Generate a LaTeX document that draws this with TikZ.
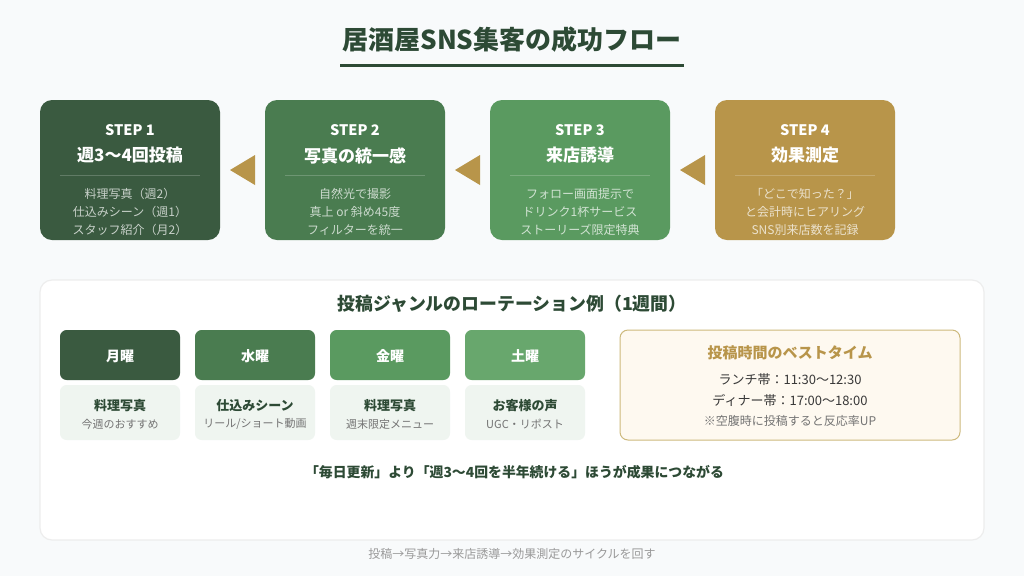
\documentclass[tikz,border=0pt]{standalone}
\usepackage{fontspec}
\setmainfont{Noto Sans CJK JP}
\usetikzlibrary{calc}

\definecolor{pagebg}{HTML}{F8FAFB}
\definecolor{forest}{HTML}{2D4A35}
\definecolor{stepA}{HTML}{3A5A40}
\definecolor{stepB}{HTML}{4A7C50}
\definecolor{stepC}{HTML}{5A9A60}
\definecolor{stepD}{HTML}{B8954A}
\definecolor{dayD}{HTML}{68A76D}
\definecolor{noteBg}{HTML}{EFF5F0}
\definecolor{creamBg}{HTML}{FEF9F0}
\definecolor{creamEdge}{HTML}{CDB97C}

\tikzset{
  label/.style={inner sep=0pt, outer sep=0pt, execute at begin node={\vphantom{国}}},
  stepbox/.style={inner sep=0pt, outer sep=0pt, rounded corners=9pt, minimum width=135pt, minimum height=105pt},
  daybox/.style={inner sep=0pt, outer sep=0pt, rounded corners=5pt, minimum width=90pt, minimum height=37.5pt},
  notebox/.style={inner sep=0pt, outer sep=0pt, rounded corners=5pt, minimum width=90pt, minimum height=41.25pt, fill=noteBg},
}

\begin{document}
\begin{tikzpicture}[x=0.75pt, y=-0.75pt]

% --------- Page ----------
\useasboundingbox (0,0) rectangle (1024,576);
\fill[pagebg] (0,0) rectangle (1024,576);

% --------- Title ----------
\node[label, text=forest, font=\fontsize{19.5pt}{24pt}\selectfont\bfseries] (title) at (512,40) {居酒屋SNS集客の成功フロー};
\fill[forest] (340,63.5) rectangle (684,66.5);

% --------- Flow of steps ----------
\foreach \n/\x/\col/\head/\la/\lb/\lc in {
  1/130/stepA/週3〜4回投稿/料理写真（週2）/仕込みシーン（週1）/スタッフ紹介（月2）,
  2/355/stepB/写真の統一感/自然光で撮影/真上 or 斜め45度/フィルターを統一,
  3/580/stepC/来店誘導/フォロー画面提示で/ドリンク1杯サービス/ストーリーズ限定特典,
  4/805/stepD/効果測定/「どこで知った？」/と会計時にヒアリング/SNS別来店数を記録}{
  \node[stepbox, fill=\col] (step\n) at (\x,170) {};
  \node[label, text=white, font=\fontsize{10.9pt}{13pt}\selectfont\bfseries] (tag\n) at ($(step\n.north)+(0,30)$) {STEP \n};
  \node[label, text=white, font=\fontsize{12.75pt}{15pt}\selectfont\bfseries] (head\n) at ($(step\n.north)+(0,55.5)$) {\head};
  \draw[white, opacity=0.2, line width=0.75pt] ($(step\n.north west)+(20,75)$) -- ($(step\n.north east)+(-20,75)$);
  \node[label, text=white, text opacity=0.72, font=\fontsize{9pt}{11pt}\selectfont] (la\n) at ($(step\n.north)+(0,93.5)$) {\la};
  \node[label, text=white, text opacity=0.72, font=\fontsize{9pt}{11pt}\selectfont] (lb\n) at ($(step\n.north)+(0,111.5)$) {\lb};
  \node[label, text=white, text opacity=0.72, font=\fontsize{9pt}{11pt}\selectfont] (lc\n) at ($(step\n.north)+(0,129.5)$) {\lc};
}

% Triangles between the steps
\foreach \n in {1,2,3}{
  \fill[stepD] ($(step\n.east)+(10,0)$) -- ($(step\n.east)+(35,-15)$) -- ($(step\n.east)+(35,15)$) -- cycle;
}

% --------- Rotation panel ----------
\node[inner sep=0pt, outer sep=0pt, rounded corners=9pt, minimum width=708pt, minimum height=195pt,
  fill=white, draw=black!7, line width=0.9pt] (panel) at (512,410) {};
\node[label, text=forest, font=\fontsize{13.4pt}{16pt}\selectfont\bfseries] (paneltitle) at (512,304) {投稿ジャンルのローテーション例（1週間）};

\foreach \n/\x/\col/\day/\main/\sub in {
  1/120/stepA/月曜/料理写真/今週のおすすめ,
  2/255/stepB/水曜/仕込みシーン/{リール/ショート動画},
  3/390/stepC/金曜/料理写真/週末限定メニュー,
  4/525/dayD/土曜/お客様の声/UGC・リポスト}{
  \node[daybox, fill=\col] (day\n) at (\x,355) {};
  \node[label, text=white, font=\fontsize{10.5pt}{13pt}\selectfont\bfseries] (dayname\n) at ($(day\n.center)+(0,1.5)$) {\day};
  \node[notebox] (note\n) at (\x,412.5) {};
  \node[label, text=forest, font=\fontsize{9.75pt}{12pt}\selectfont\bfseries] (notemain\n) at ($(note\n.north)+(0,20.5)$) {\main};
  \node[label, text=black!55, font=\fontsize{8.25pt}{10pt}\selectfont] (notesub\n) at ($(note\n.north)+(0,39)$) {\sub};
}

% --------- Best time box ----------
\node[inner sep=0pt, outer sep=0pt, rounded corners=6pt, minimum width=255pt, minimum height=82.5pt,
  fill=creamBg, draw=creamEdge, line width=0.75pt] (best) at (790,385) {};
\node[label, text=stepD, font=\fontsize{11.25pt}{14pt}\selectfont\bfseries] (besttitle) at (790,352.5) {投稿時間のベストタイム};
\node[label, text=black!78, font=\fontsize{9.75pt}{12pt}\selectfont] (lunch) at (790,380) {ランチ帯：11:30〜12:30};
\node[label, text=black!78, font=\fontsize{9.75pt}{12pt}\selectfont] (dinner) at (790,400) {ディナー帯：17:00〜18:00};
\node[label, text=black!55, font=\fontsize{9pt}{11pt}\selectfont] (bestnote) at (790,421) {※空腹時に投稿すると反応率UP};

% --------- Closing lines ----------
\node[label, text=forest, font=\fontsize{10.4pt}{13pt}\selectfont\bfseries] (closing) at (514.5,472.5) {「毎日更新」より「週3〜4回を半年続ける」ほうが成果につながる};
\node[label, text=black!40, font=\fontsize{9pt}{11pt}\selectfont] (footer) at (512,553.5) {投稿→写真力→来店誘導→効果測定のサイクルを回す};

\end{tikzpicture}
\end{document}
